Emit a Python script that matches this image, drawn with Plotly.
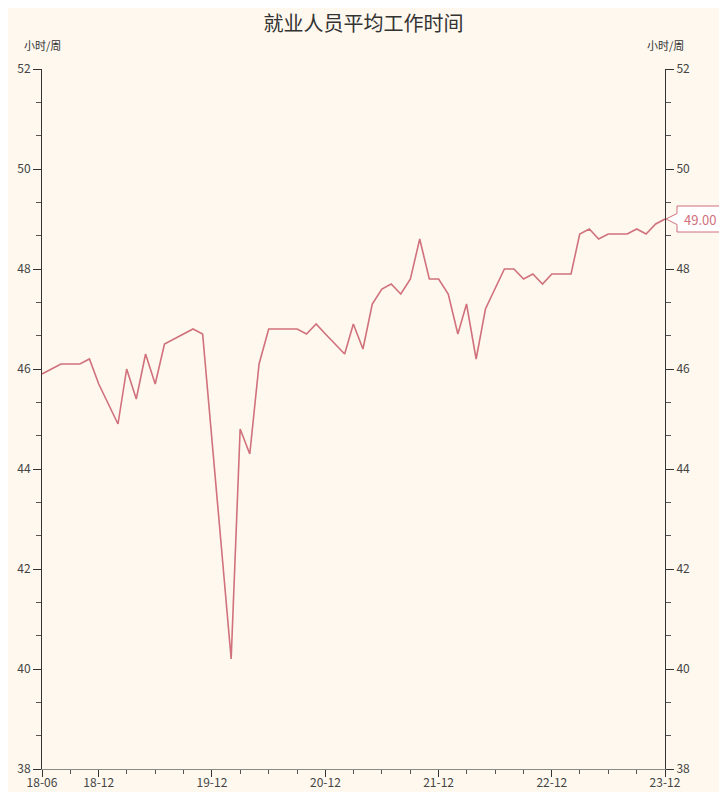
import pandas as pd
import plotly.graph_objects as go

title = "就业人员平均工作时间"
unit = "小时/周"
start_month = "2018-06-01"
values = [
    45.9, 46.0, 46.1, 46.1, 46.1, 46.2, 45.7, 45.3, 44.9, 46.0,
    45.4, 46.3, 45.7, 46.5, 46.6, 46.7, 46.8, 46.7, 44.5, 42.4,
    40.2, 44.8, 44.3, 46.1, 46.8, 46.8, 46.8, 46.8, 46.7, 46.9,
    46.7, 46.5, 46.3, 46.9, 46.4, 47.3, 47.6, 47.7, 47.5, 47.8,
    48.6, 47.8, 47.8, 47.5, 46.7, 47.3, 46.2, 47.2, 47.6, 48.0,
    48.0, 47.8, 47.9, 47.7, 47.9, 47.9, 47.9, 48.7, 48.8, 48.6,
    48.7, 48.7, 48.7, 48.8, 48.7, 48.9, 49.0,
]
tick_labels = ["18-06", "18-12", "19-12", "20-12", "21-12", "22-12", "23-12"]
y_range = [38, 52]

dates = pd.date_range(start_month, periods=len(values), freq="MS")
labels = dates.strftime("%y-%m").tolist()
tick_dates = [dates[labels.index(t)] for t in tick_labels]

line_color = "#d0717c"
bg = "#fef8ee"
font_family = "Noto Sans CJK SC, Noto Sans, sans-serif"

# the page body has an 8px default margin; the figure is sized to fit inside it
W, H = 711, 784

fig = go.Figure()
fig.add_trace(go.Scatter(
    x=dates, y=values, mode="lines",
    line=dict(color=line_color, width=1.6),
    showlegend=False, hoverinfo="x+y",
))
# mirror trace so the right-hand axis is drawn
fig.add_trace(go.Scatter(
    x=dates, y=values, mode="lines", yaxis="y2",
    line=dict(color=line_color, width=0), opacity=0,
    showlegend=False, hoverinfo="skip",
))

yaxis_common = dict(
    range=y_range, dtick=2, tick0=y_range[0], automargin=False,
    showgrid=False, zeroline=False,
    showline=True, linecolor="#333", linewidth=1,
    ticks="outside", ticklen=8, tickcolor="#333",
    tickfont=dict(size=12, color="#444", family=font_family),
    minor=dict(dtick=2 / 3, tick0=y_range[0], ticks="outside", ticklen=5, tickcolor="#555"),
)

last_x = dates[-1]
last_y = values[-1]
last_y_paper = (last_y - y_range[0]) / (y_range[1] - y_range[0])

fig.update_layout(
    width=W, height=H,
    paper_bgcolor=bg, plot_bgcolor=bg,
    margin=dict(l=34, r=54, t=61, b=23, autoexpand=False),
    title=dict(text=title, x=0.5, xanchor="center", y=1 - 16 / H, yanchor="middle",
               automargin=False,
               font=dict(size=20, color="#333", family=font_family)),
    xaxis=dict(
        type="date", range=[dates[0], dates[-1]], automargin=False,
        tickmode="array", tickvals=tick_dates, ticktext=tick_labels,
        showgrid=False, zeroline=False,
        showline=True, linecolor="#8a8a84", linewidth=1,
        ticks="outside", ticklen=7, tickcolor="#333",
        ticklabelstandoff=-4,
        tickfont=dict(size=12, color="#444", family=font_family),
        minor=dict(dtick="M3", tick0=start_month, ticks="outside", ticklen=4, tickcolor="#555"),
    ),
    yaxis=dict(side="left", **yaxis_common),
    yaxis2=dict(side="right", overlaying="y", anchor="x", **yaxis_common),
    annotations=[
        dict(text=unit, xref="paper", yref="paper", x=0, y=1, yshift=24,
             xanchor="center", yanchor="middle", showarrow=False,
             font=dict(size=11, color="#333", family=font_family)),
        dict(text=unit, xref="paper", yref="paper", x=1, y=1, yshift=24,
             xanchor="center", yanchor="middle", showarrow=False,
             font=dict(size=11, color="#333", family=font_family)),
        dict(text=f"{last_y:.2f}", x=last_x, y=last_y, xref="x", yref="y",
             xanchor="center", yanchor="middle", xshift=35, showarrow=False,
             font=dict(size=13, color=line_color, family=font_family)),
    ],
    shapes=[
        dict(type="path", xref="paper", yref="paper",
             xsizemode="pixel", ysizemode="pixel",
             xanchor=1, yanchor=last_y_paper,
             path="M 1 0 L 12 5.5 L 12 13 L 57 13 L 57 -13 L 12 -13 L 12 -5.5 Z",
             line=dict(color=line_color, width=1), fillcolor="#ffffff", layer="below"),
    ],
)

fig.write_html("out.html")
